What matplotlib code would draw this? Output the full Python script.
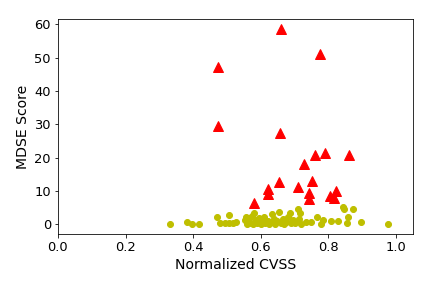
import matplotlib
matplotlib.use("Agg")
import matplotlib.pyplot as plt

# low-scoring points (yellow circles)
cvss_low = [0.332, 0.381, 0.397, 0.417, 0.471, 0.479, 0.493, 0.505, 0.507, 0.517,
            0.527, 0.552, 0.557, 0.560, 0.565, 0.570, 0.575, 0.578, 0.581, 0.585,
            0.590, 0.595, 0.600, 0.605, 0.610, 0.613, 0.620, 0.625, 0.630, 0.633,
            0.638, 0.642, 0.648, 0.655, 0.660, 0.665, 0.670, 0.675, 0.680, 0.685,
            0.690, 0.695, 0.700, 0.709, 0.716, 0.714, 0.720, 0.735, 0.749, 0.765,
            0.778, 0.783, 0.808, 0.828, 0.842, 0.846, 0.857, 0.854, 0.874, 0.897,
            0.975]
mdse_low = [0.1, 0.7, 0.2, 0.2, 2.2, 0.5, 0.4, 0.5, 2.8, 0.3,
            0.8, 1.3, 2.3, 0.2, 1.8, 0.5, 2.6, 0.0, 3.3, 1.2,
            0.4, 1.9, 0.1, 0.8, 2.2, 0.3, 1.0, 0.0, 0.6, 3.1,
            1.5, 0.2, 0.9, 3.8, 0.4, 1.6, 0.1, 0.7, 2.3, 3.3,
            0.3, 1.2, 0.5, 4.6, 3.3, 1.5, 0.2, 0.8, 0.8, 2.1,
            0.2, 1.3, 1.0, 0.9, 5.1, 4.5, 2.1, 0.3, 4.5, 0.6,
            0.0]

# high-scoring points (red triangles)
cvss_high = [0.659, 0.774, 0.474, 0.474, 0.657, 0.760, 0.790, 0.860, 0.727, 0.653,
             0.751, 0.709, 0.622, 0.622, 0.743, 0.743, 0.823, 0.806, 0.815, 0.581]
mdse_high = [58.7, 51.2, 47.2, 29.5, 27.5, 20.7, 21.3, 20.9, 18.0, 12.8,
             13.1, 11.3, 10.5, 9.1, 9.3, 7.7, 10.1, 8.6, 7.8, 6.3]

fig = plt.figure(figsize=(6, 4), dpi=72)
ax = fig.add_subplot(111)
ax.plot(cvss_low, mdse_low, "yo", markersize=6)
ax.plot(cvss_high, mdse_high, "r^", markersize=10)
ax.set_xlim(0, 1.05)
ax.set_xlabel("Normalized CVSS", fontsize=14)
ax.set_ylabel("MDSE Score", fontsize=14)
ax.tick_params(labelsize=13)
fig.subplots_adjust(left=0.134, right=0.956, top=0.934, bottom=0.1875)
fig.savefig("out.png", dpi=72)
